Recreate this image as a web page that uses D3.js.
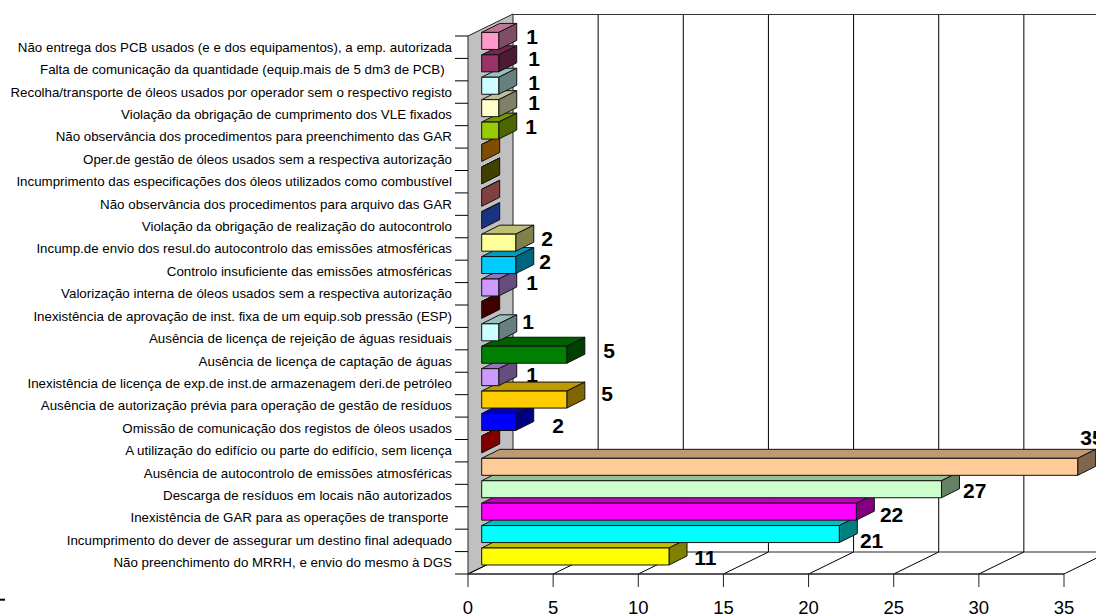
<!DOCTYPE html>
<html><head><meta charset="utf-8">
<script src="https://cdn.jsdelivr.net/npm/d3@7"></script>
<style>html,body{margin:0;padding:0;background:#fff;overflow:hidden}svg{display:block}text{font-family:"Liberation Sans",Arial,sans-serif;white-space:pre}</style>
</head><body><svg id="c" width="1096" height="615"></svg>
<script>
const categories=[
"Não entrega dos PCB usados (e e dos equipamentos), a emp. autorizada",
"Falta de comunicação da quantidade (equip.mais de 5 dm3 de PCB)  ",
"Recolha/transporte de óleos usados por operador sem o respectivo registo",
"Violação da obrigação de cumprimento dos VLE fixados",
"Não observância dos procedimentos para preenchimento das GAR",
"Oper.de gestão de óleos usados sem a respectiva autorização",
"Incumprimento das especificações dos óleos utilizados como combustível",
"Não observância dos procedimentos para arquivo das GAR",
"Violação da obrigação de realização do autocontrolo",
"Incump.de envio dos resul.do autocontrolo das emissões atmosféricas",
"Controlo insuficiente das emissões atmosféricas",
"Valorização interna de óleos usados sem a respectiva autorização",
"Inexistência de aprovação de inst. fixa de um equip.sob pressão (ESP)",
"Ausência de licença de rejeição de águas residuais",
"Ausência de licença de captação de águas",
"Inexistência de licença de exp.de inst.de armazenagem deri.de petróleo",
"Ausência de autorização prévia para operação de gestão de resíduos",
"Omissão de comunicação dos registos de óleos usados",
"A utilização do edifício ou parte do edifício, sem licença",
"Ausência de autocontrolo de emissões atmosféricas",
"Descarga de resíduos em locais não autorizados",
"Inexistência de GAR para as operações de transporte ",
"Incumprimento do dever de assegurar um destino final adequado",
"Não preenchimento do MRRH, e envio do mesmo à DGS"];
const values=[1,1,1,1,1,0,0,0,0,2,2,1,0,1,5,1,5,2,0,35,27,22,21,11];
const colors=["#FF99CC","#993366","#CCFFFF","#FFFFCC","#99CC00","#FF9900","#808000","#FF8080","#3366FF","#FFFF99","#00CCFF","#CC99FF","#800000","#CCFFFF","#008000","#CC99FF","#FFCC00","#0000FF","#FF0000","#FFCC99","#CCFFCC","#FF00FF","#00FFFF","#FFFF00"];
const xTicks=[0,5,10,15,20,25,30,35];
// hand placement of the data labels in the source chart: offset from the bar's value position and row centre
const labelDx=[47,49,49,49,46,0,0,0,0,45,43,47,0,43,56,47,54,56,0,28,47,49,46,50];
const labelDy=[-11,-11,-10,-11.5,-10,0,0,0,0,-10,-10,-11,0,-17,-11,-8.5,-12,-3,0,-36,-5,-3,0,-5];

const svg=d3.select("#c");
const W={x:468,top:36,bot:574,dx:45,dy:22};
const x=d3.scaleLinear().domain([0,35]).range([W.x,1064]);
const y=d3.scaleBand().domain(categories).range([W.top,W.bot]);
const rowEdge=d3.scaleLinear().domain([0,24]).range([W.top,W.bot]);
const line="#000", bar={ox:13.7,oy:-6.3,h:17,dx:18,dy:9};

const g=svg.append("g").attr("fill","none").attr("stroke",line);
g.append("polygon").attr("points",[[W.x,W.top],[W.x+W.dx,W.top-W.dy],[W.x+W.dx,W.bot-W.dy],[W.x,W.bot]].join(" ")).attr("fill","#C0C0C0").attr("stroke","#222");
g.selectAll(".grid").data(xTicks.slice(1)).join("line").attr("x1",d=>x(d)+W.dx).attr("x2",d=>x(d)+W.dx).attr("y1",W.top-W.dy).attr("y2",W.bot-W.dy);
g.append("line").attr("x1",W.x+W.dx).attr("x2",1096).attr("y1",W.top-W.dy+.5).attr("y2",W.top-W.dy+.5).attr("stroke","#333");
g.append("line").attr("x1",W.x+W.dx).attr("x2",1096).attr("y1",W.bot-W.dy).attr("y2",W.bot-W.dy).attr("stroke","#222");
g.selectAll(".diag").data(xTicks).join("line").attr("x1",d=>x(d)).attr("x2",d=>x(d)+W.dx).attr("y1",W.bot).attr("y2",W.bot-W.dy);
g.append("line").attr("x1",W.x).attr("x2",x(35)).attr("y1",W.bot).attr("y2",W.bot).attr("stroke-width",1.3).attr("stroke","#222");
g.selectAll(".xt").data(xTicks).join("line").attr("x1",d=>x(d)).attr("x2",d=>x(d)).attr("y1",W.bot).attr("y2",W.bot+13).attr("stroke","#222");
g.selectAll(".yt").data(d3.range(25)).join("line").attr("x1",W.x-13).attr("x2",W.x).attr("y1",d=>rowEdge(d)).attr("y2",d=>rowEdge(d));
g.append("line").attr("x1",0).attr("x2",5).attr("y1",599.7).attr("y2",599.7).attr("stroke-width",2);

svg.selectAll(".xl").data(xTicks).join("text").attr("x",d=>x(d)).attr("y",614).attr("text-anchor","middle").attr("font-size",18.5).attr("fill","#000").text(d=>d);
svg.selectAll(".cat").data(categories).join("text").attr("x",452).attr("y",d=>y(d)+y.bandwidth()/2+4.5).attr("text-anchor","end").attr("font-size",13.33).attr("fill","#000").text(d=>d);

// data labels sit behind the bars
const rows=categories.map((c,i)=>({c,i,v:values[i],col:colors[i]}));
svg.selectAll(".dl").data(rows.filter(d=>d.v>0)).join("text")
 .attr("x",d=>x(d.v)+labelDx[d.i]).attr("y",d=>y(d.c)+y.bandwidth()/2+labelDy[d.i]+7.5)
 .attr("text-anchor","middle").attr("font-size",21).attr("font-weight","bold").attr("fill","#000").text(d=>d.v);

// bars, bottom row first
const bars=svg.selectAll(".bar").data(rows.slice().reverse()).join("g").attr("stroke","#111").attr("stroke-width",1).attr("stroke-linejoin","round");
const shade=(c,k)=>{const r=d3.rgb(c);return d3.rgb(r.r*k,r.g*k,r.b*k).formatHex();};
const corners=d=>{const l=x(0)+bar.ox,r=x(d.v)+bar.ox,t=y(d.c)+y.bandwidth()/2-bar.h/2+bar.oy,b=t+bar.h;return{l,r,t,b};};
bars.append("polygon").attr("fill",d=>shade(d.col,.75)).attr("points",d=>{const k=corners(d);return [[k.l,k.t],[k.r,k.t],[k.r+bar.dx,k.t-bar.dy],[k.l+bar.dx,k.t-bar.dy]].join(" ");});
bars.append("polygon").attr("fill",d=>shade(d.col,.5)).attr("points",d=>{const k=corners(d);return [[k.r,k.t],[k.r+bar.dx,k.t-bar.dy],[k.r+bar.dx,k.b-bar.dy],[k.r,k.b]].join(" ");});
bars.append("rect").attr("fill",d=>d.col).attr("x",d=>corners(d).l).attr("y",d=>corners(d).t).attr("width",d=>corners(d).r-corners(d).l).attr("height",bar.h);
</script></body></html>
